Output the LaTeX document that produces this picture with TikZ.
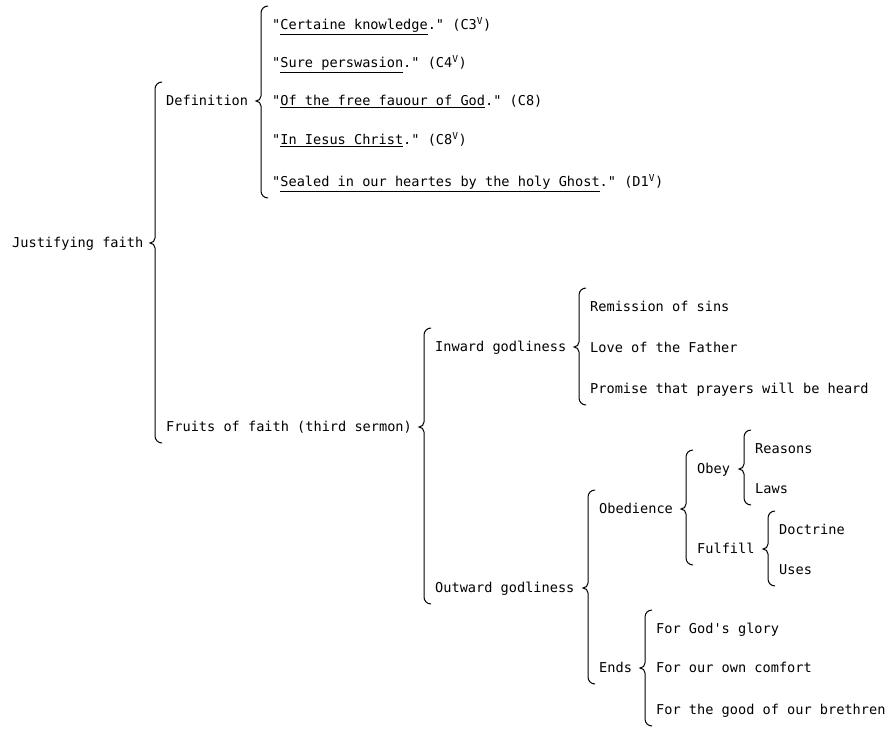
\documentclass[tikz,border=0pt]{standalone}
\usepackage{fontspec}
\usepackage{tikz}
\usetikzlibrary{calc}
\newfontfamily\typew{DejaVu Sans Mono}
% curly brace from parent (#1) to first (#2) and last (#3) child
\newcommand{\brc}[3]{%
  \draw[brc] let \p1=(#1.east), \p2=(#2.west), \p3=(#3.west) in
    (\x2-4pt,\y2+19pt) to[out=180,in=90] (\x2-11pt,\y2+12pt)
    -- (\x2-11pt,\y1+5pt) to[out=-90,in=0] (\x2-16pt,\y1)
    to[out=0,in=90] (\x2-11pt,\y1-5pt)
    -- (\x2-11pt,\y3-9pt) to[out=-90,in=180] (\x2-4pt,\y3-16pt);}

\begin{document}
\begin{tikzpicture}[x=1pt,y=-1pt,
  lbl/.style={anchor=west,inner sep=0pt,text height=11pt,text depth=2pt,
    font=\typew\fontsize{13.6}{16}\selectfont},
  brc/.style={line width=1pt}]
  \useasboundingbox (0,0) rectangle (888,728);
  \node[lbl] (jf) at (12,243) {Justifying faith};
  \node[lbl] (def) at (166,101) {Definition};
  \node[lbl] (d1) at (272,25) {"\underline{Certaine knowledge}." (C3\textsuperscript{V})};
  \node[lbl] (d2) at (272,63) {"\underline{Sure perswasion}." (C4\textsuperscript{V})};
  \node[lbl] (d3) at (272,101) {"\underline{Of the free fauour of God}." (C8)};
  \node[lbl] (d4) at (272,140) {"\underline{In Iesus Christ}." (C8\textsuperscript{V})};
  \node[lbl] (d5) at (272,182) {"\underline{Sealed in our heartes by the holy Ghost}." (D1\textsuperscript{V})};
  \node[lbl] (fr) at (166,427) {Fruits of faith (third sermon)};
  \node[lbl] (inw) at (435,347) {Inward godliness};
  \node[lbl] (i1) at (590,307) {Remission of sins};
  \node[lbl] (i2) at (590,348) {Love of the Father};
  \node[lbl] (i3) at (590,389) {Promise that prayers will be heard};
  \node[lbl] (outw) at (435,588) {Outward godliness};
  \node[lbl] (ob) at (599,509) {Obedience};
  \node[lbl] (obey) at (697,469) {Obey};
  \node[lbl] (r1) at (755,449) {Reasons};
  \node[lbl] (r2) at (755,489) {Laws};
  \node[lbl] (ful) at (697,549) {Fulfill};
  \node[lbl] (f1) at (779,530) {Doctrine};
  \node[lbl] (f2) at (779,570) {Uses};
  \node[lbl] (ends) at (599,668) {Ends};
  \node[lbl] (e1) at (656,629) {For God's glory};
  \node[lbl] (e2) at (656,668) {For our own comfort};
  \node[lbl] (e3) at (656,710) {For the good of our brethren};
  \brc{jf}{def}{fr}
  \brc{def}{d1}{d5}
  \brc{fr}{inw}{outw}
  \brc{inw}{i1}{i3}
  \brc{outw}{ob}{ends}
  \brc{ob}{obey}{ful}
  \brc{obey}{r1}{r2}
  \brc{ful}{f1}{f2}
  \brc{ends}{e1}{e3}
\end{tikzpicture}
\end{document}
